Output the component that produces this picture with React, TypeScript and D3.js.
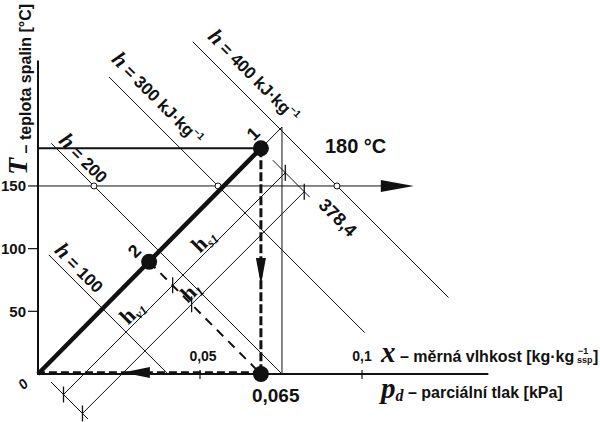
import React from "react";
import * as d3 from "d3";

// axis ticks
const yTicks = [50, 100, 150];
const xTicks = [0.05, 0.1];
const xTickLabels = ["0,05", "0,1"];

// isenthalps: value, x where the line reaches T = 0, temperature span drawn
const hValues = [100, 200, 300, 400];
const hAxisX = [0.0401, 0.0753, 0.1136, 0.1503];
const hTopT = [95, 184, 237, 265];
const hBottomT = [0, 0, 33, 61];
const hWithUnit = [false, false, true, true];
const hLabelT = [94.5, 182, 243, 261];

// states of the flue gas
const stateNames = ["1", "2"];
const stateX = [0.0688, 0.0343];
const stateT = [180, 89.5];

const refT = 150; // horizontal reference arrow
const refArrowX = 0.116;
const wallX = 0.0753; // thin vertical line
const coolArrowT = 71;
const returnArrowX = 0.0262;
const dimAxisX = [0.0142, 0.0259]; // dimension lines h_v1 / h_s1 and h_1
const dimLabelT = [44, 101, 60.6];

const SANS = "'Liberation Sans', Arial, sans-serif";
const SERIF = "'Liberation Serif', 'Times New Roman', serif";

const App = () => {
  const x = d3.scaleLinear().domain([0, 0.1]).range([38, 362]);
  const y = d3.scaleLinear().domain([0, 250]).range([374, 60.6]);
  const X0 = x(0);
  const Y0 = y(0);

  // isenthalps run at -45 degrees on the sheet
  const hPoint = (ax: number, t: number): [number, number] => [x(ax) - (Y0 - y(t)), y(t)];
  const line = d3.line();

  const p1: [number, number] = [x(stateX[0]), y(stateT[0])];
  const p2: [number, number] = [x(stateX[1]), y(stateT[1])];
  const pBottom: [number, number] = [x(stateX[0]), Y0];
  const tWall = (stateT[0] * wallX) / stateX[0];

  // dimension geometry (u = px + py along the up-right lines, c = px - py on isenthalps)
  const cTop = p1[0] - p1[1];
  const cBottom = X0 - Y0 + 5; // drawn a little off the origin
  const cDash = p2[0] - p2[1];
  const uDim = dimAxisX.map((d) => x(d) + Y0);
  const at = (u: number, c: number): [number, number] => [(u + c) / 2, (u - c) / 2];
  const onDim = (i: number, t: number): [number, number] => [uDim[i] - y(t), y(t)];

  const tickMarks: [number, number][] = [];
  uDim.forEach((u) => [cTop, cBottom, cDash].forEach((c) => tickMarks.push(at(u, c))));

  const thin = { stroke: "#111", strokeWidth: 1, fill: "none" };

  const tri = (pts: [number, number][]) => "M" + pts.map((p) => p.join(",")).join("L") + "Z";
  const refTip = x(refArrowX);
  const coolTip = y(coolArrowT);
  const retTip = x(returnArrowX);

  return (
    <svg width={600} height={422} style={{ position: "absolute", left: 0, top: 0, background: "#fff" }}>
      {/* isenthalps */}
      {hValues.map((h, i) => (
        <path key={"h" + h} d={line([hPoint(hAxisX[i], hTopT[i]), hPoint(hAxisX[i], hBottomT[i])]) || ""} {...thin} />
      ))}
      {/* dimension lines */}
      {uDim.map((u, i) => (
        <path key={"dim" + i} d={line([at(u, cBottom), at(u, cTop)]) || ""} {...thin} />
      ))}
      {[cTop, cBottom].map((c, i) => (
        <path key={"ext" + i} d={line([at(uDim[0] - 25, c), at(uDim[1] + 11, c)]) || ""} {...thin} />
      ))}
      {tickMarks.map((p, i) => (
        <line key={"tm" + i} x1={p[0]} x2={p[0]} y1={p[1] - 8} y2={p[1] + 8} stroke="#111" strokeWidth={1.3} />
      ))}
      {/* wall line and continuation */}
      <line x1={x(wallX)} x2={x(wallX)} y1={Y0} y2={y(tWall)} {...thin} />
      <path d={line([p1, [x(wallX), y(tWall)]]) || ""} {...thin} />
      {/* reference line T = 150 */}
      <line x1={X0} x2={refTip - 30} y1={y(refT)} y2={y(refT)} {...thin} />
      <path d={tri([[refTip - 33, y(refT) - 6], [refTip, y(refT)], [refTip - 33, y(refT) + 6]])} fill="#111" />
      {hValues.slice(1).map((h, i) => {
        const p = hPoint(hAxisX[i + 1], refT);
        return <circle key={"c" + h} cx={p[0]} cy={p[1]} r={3} fill="#fff" stroke="#111" strokeWidth={1} />;
      })}

      {/* axes */}
      <line x1={X0} x2={X0} y1={y(250)} y2={Y0 + 1} stroke="#111" strokeWidth={2} />
      <line x1={X0 - 1} x2={x(0.139)} y1={Y0} y2={Y0} stroke="#111" strokeWidth={2} />
      {yTicks.map((t) => (
        <g key={"yt" + t}>
          <line x1={X0 - 10} x2={X0} y1={y(t)} y2={y(t)} stroke="#111" strokeWidth={1.2} />
          <text x={X0 - 12} y={y(t)} dy="0.36em" textAnchor="end" fontFamily={SANS} fontWeight="bold" fontSize={15} fill="#111">
            {t}
          </text>
        </g>
      ))}
      {xTicks.map((v, i) => (
        <g key={"xt" + v}>
          <line x1={x(v)} x2={x(v)} y1={Y0 - 4} y2={Y0 + 5} stroke="#111" strokeWidth={1.2} />
          <text x={x(v) + (i === 0 ? 3 : 0)} y={Y0 - 13} textAnchor="middle" fontFamily={SANS} fontWeight="bold" fontSize={14} fill="#111">
            {xTickLabels[i]}
          </text>
        </g>
      ))}

      {/* process */}
      <line x1={X0} x2={p1[0]} y1={p1[1]} y2={p1[1]} stroke="#111" strokeWidth={2} />
      <path d={line([[X0, Y0], p1]) || ""} stroke="#111" strokeWidth={4.5} fill="none" />
      <path d={line([p2, pBottom]) || ""} stroke="#111" strokeWidth={2} strokeDasharray="9 7" fill="none" />
      <path d={line([p1, pBottom]) || ""} stroke="#111" strokeWidth={3} strokeDasharray="9 3" fill="none" />
      <path d={line([pBottom, [X0, Y0]]) || ""} transform="translate(0,-1.5)" stroke="#111" strokeWidth={2.5} strokeDasharray="8 4" fill="none" />
      <path d={tri([[p1[0] - 5, coolTip - 27], [p1[0], coolTip], [p1[0] + 5, coolTip - 27]])} fill="#111" />
      <path d={tri([[retTip + 27, Y0 - 7], [retTip, Y0 - 1.5], [retTip + 27, Y0 + 4]])} fill="#111" />
      {[p1, p2, pBottom].map((p, i) => (
        <circle key={"s" + i} cx={p[0]} cy={p[1]} r={8} fill="#111" />
      ))}

      {/* isenthalp labels */}
      {hValues.map((h, i) => {
        const p = hPoint(hAxisX[i], hLabelT[i]);
        const off = i < 2 ? 4 : 9;
        return (
          <text
            key={"hl" + h}
            transform={`translate(${p[0] + off},${p[1] - off}) rotate(45)`}
            fontFamily={SANS}
            fontWeight="bold"
            fontSize={17}
            fill="#111"
            style={{ whiteSpace: "pre" }}
          >
            <tspan fontFamily={SERIF} fontStyle="italic" fontSize={22}>h</tspan>
            <tspan>{" = " + h}</tspan>
            {hWithUnit[i] && <tspan>{" kJ·kg"}</tspan>}
            {hWithUnit[i] && <tspan fontSize={10} dy={-7}>−1</tspan>}
          </text>
        );
      })}

      {/* dimension labels */}
      {[
        { i: 0, t: dimLabelT[0], sub: "v1" },
        { i: 0, t: dimLabelT[1], sub: "s1" },
        { i: 1, t: dimLabelT[2], sub: "1" },
      ].map((d, k) => {
        const p = onDim(d.i, d.t);
        return (
          <text
            key={"dl" + k}
            transform={`translate(${p[0]},${p[1]}) rotate(-45)`}
            dy={-3}
            textAnchor="middle"
            fontFamily={SERIF}
            fontWeight="bold"
            fontSize={22}
            fill="#111"
          >
            h<tspan fontSize={13} fontStyle="italic" dy={4}>{d.sub}</tspan>
          </text>
        );
      })}

      {/* state labels */}
      {stateNames.map((n, i) => {
        const p = i === 0 ? p1 : p2;
        const o = i === 0 ? [-8, -15] : [-15, -11];
        return (
          <text
            key={"sl" + n}
            transform={`translate(${p[0] + o[0]},${p[1] + o[1]}) rotate(-45)`}
            textAnchor="middle"
            dy="0.36em"
            fontFamily={SANS}
            fontWeight="bold"
            fontSize={18}
            fill="#111"
          >
            {n}
          </text>
        );
      })}
      <text x={p1[0] + 64} y={p1[1] + 5} fontFamily={SANS} fontWeight="bold" fontSize={20} fill="#111">
        {stateT[0] + " °C"}
      </text>
      <text
        transform={`translate(${cTop + y(refT) + 19},${y(refT) + 20}) rotate(45)`}
        fontFamily={SANS}
        fontWeight="bold"
        fontSize={18}
        fill="#111"
      >
        378,4
      </text>
      <text x={pBottom[0] - 9} y={Y0 + 28} fontFamily={SANS} fontWeight="bold" fontSize={19} fill="#111">
        0,065
      </text>
      <text transform={`translate(23,${Y0 + 10}) rotate(-45)`} textAnchor="middle" dy="0.36em" fontFamily={SANS} fontStyle="italic" fontWeight="bold" fontSize={14} fill="#111">
        0
      </text>

      {/* axis titles */}
      <text transform={`translate(31,${y(refT) - 11}) rotate(-90)`} fontFamily={SANS} fontWeight="bold" fontSize={16} fill="#111" style={{ whiteSpace: "pre" }}>
        <tspan fontFamily={SERIF} fontStyle="italic" fontSize={28} dy={-4}>T</tspan>
        <tspan dy={4}>{" – teplota spalin [°C]"}</tspan>
      </text>
      <text x={381} y={Y0 - 12} fontFamily={SANS} fontWeight="bold" fontSize={16} fill="#111" style={{ whiteSpace: "pre" }}>
        <tspan fontFamily={SERIF} fontStyle="italic" fontSize={29}>x</tspan>
        <tspan>{" – měrná vlhkost [kg·kg"}</tspan>
      </text>
      <text x={578} y={Y0 - 20} fontFamily={SANS} fontWeight="bold" fontSize={9} fill="#111">−1</text>
      <text x={577} y={Y0 - 11} fontFamily={SANS} fontWeight="bold" fontSize={9} fill="#111">ssp</text>
      <text x={593} y={Y0 - 12} fontFamily={SANS} fontWeight="bold" fontSize={16} fill="#111">]</text>
      <text x={381} y={Y0 + 24} fontFamily={SANS} fontWeight="bold" fontSize={16} fill="#111" style={{ whiteSpace: "pre" }}>
        <tspan fontFamily={SERIF} fontStyle="italic" fontSize={29}>p</tspan>
        <tspan fontFamily={SERIF} fontStyle="italic" fontSize={16} dy={3}>d</tspan>
        <tspan dy={-3}>{" – parciální tlak [kPa]"}</tspan>
      </text>
    </svg>
  );
};

export default App;
